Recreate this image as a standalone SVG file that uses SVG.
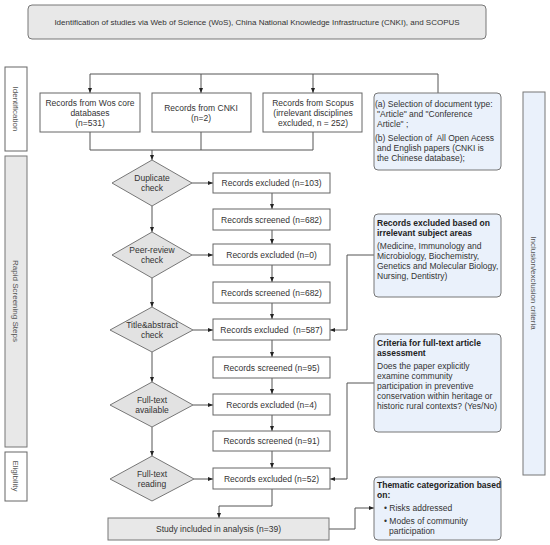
<svg xmlns="http://www.w3.org/2000/svg" width="550" height="545" viewBox="0 0 550 545">
<defs>
<marker id="ah" viewBox="0 0 10 10" refX="10" refY="5" markerWidth="5" markerHeight="5" orient="auto" markerUnits="userSpaceOnUse">
<path d="M0,1 L10,5 L0,9 z" fill="#222"/>
</marker>
</defs>
<style>
text{font-family:"Liberation Sans",Arial,sans-serif;font-size:8.5px;fill:#333}
.c{text-anchor:middle}
.b{font-weight:bold;fill:#222}
.box{fill:#fff;stroke:#666;stroke-width:1}
.grey{fill:#e8e8e8;stroke:#777;stroke-width:1}
.dia{fill:#e2e2e2;stroke:#777;stroke-width:1}
.blue{fill:#eaf1fb;stroke:#777;stroke-width:1}
.side{fill:#555;font-size:8px}
.con path{fill:none;stroke:#555;stroke-width:1}
.arr{marker-end:url(#ah)}
</style>
<rect width="550" height="545" fill="#fff"/>

<g id="title"><rect x="28" y="5" width="458" height="34" rx="4" class="grey"/>
<text x="257" y="25" class="c" style="font-size:8px">Identification of studies via Web of Science (WoS), China National Knowledge Infrastructure (CNKI), and SCOPUS</text></g>

<g id="side-identification"><rect x="5" y="67" width="22" height="84" class="box"/>
<text transform="translate(13,109) rotate(90)" class="c side">Identification</text></g>
<g id="side-screening"><rect x="5" y="156" width="22" height="291" class="grey"/>
<text transform="translate(13,301) rotate(90)" class="c side">Rapid Screening Steps</text></g>
<g id="side-eligibility"><rect x="5" y="452" width="22" height="49" class="box"/>
<text transform="translate(13,476) rotate(90)" class="c side">Eligibility</text></g>
<g id="side-criteria"><rect x="523" y="92" width="22" height="383" class="blue"/>
<text transform="translate(531,283) rotate(90)" class="c side">Inclusion/exclusion criteria</text></g>

<g class="con" id="connectors">
<path d="M438,93 V74 H90 V93" class="arr"/>
<path d="M201,74 V93" class="arr"/>
<path d="M313,74 V93" class="arr"/>
<path d="M90,132 V150 H313 V132"/>
<path d="M201,132 V150"/>
<path d="M152,150 V160" class="arr"/>
<path d="M152,206 V232" class="arr"/>
<path d="M152,278 V307" class="arr"/>
<path d="M152,352 V382" class="arr"/>
<path d="M152,427 V456" class="arr"/>
<path d="M192,183 H213" class="arr"/>
<path d="M192,255 H213" class="arr"/>
<path d="M193,330 H213" class="arr"/>
<path d="M193,405 H213" class="arr"/>
<path d="M194,479 H213" class="arr"/>
<path d="M272,193 V209" class="arr"/>
<path d="M272,230 V244" class="arr"/>
<path d="M272,265 V282" class="arr"/>
<path d="M272,303 V319" class="arr"/>
<path d="M272,340 V357" class="arr"/>
<path d="M272,378 V394" class="arr"/>
<path d="M272,415 V431" class="arr"/>
<path d="M272,451 V468" class="arr"/>
<path d="M272,489 V506 H219 V518" class="arr"/>
<path d="M374,255 H347 V330 H330" class="arr"/>
<path d="M374,383 H347 V479 H330" class="arr"/>
<path d="M329,529 H355 V508 H374" class="arr"/>
</g>

<g id="wos"><rect x="40" y="93" width="100" height="39" class="box"/>
<text x="90" y="106" class="c">Records from Wos core</text><text x="90" y="116" class="c">databases</text><text x="90" y="126" class="c">(n=531)</text></g>
<g id="cnki"><rect x="152" y="93" width="99" height="39" class="box"/>
<text x="201" y="111" class="c">Records from CNKI</text><text x="201" y="121" class="c">(n=2)</text></g>
<g id="scopus"><rect x="263" y="93" width="99" height="39" class="box"/>
<text x="313" y="106" class="c">Records from Scopus</text><text x="313" y="116" class="c">(irrelevant disciplines</text><text x="313" y="126" class="c">excluded, n = 252)</text></g>

<g id="doctype"><rect x="374" y="93" width="127" height="77" rx="4" class="blue"/>
<text x="375" y="107">(a) Selection of document type:</text>
<text x="377" y="117">"Article" and "Conference</text>
<text x="377" y="127">Article" ;</text>
<text x="375" y="141" xml:space="preserve">(b) Selection of  All Open Acess</text>
<text x="377" y="151">and English papers (CNKI is</text>
<text x="377" y="161">the Chinese database);</text></g>

<g id="dup"><polygon points="152,160 192,183 152,206 112,183" class="dia"/>
<text x="152" y="181" class="c">Duplicate</text><text x="152" y="191" class="c">check</text></g>
<g id="peer"><polygon points="152,232 192,255 152,278 112,255" class="dia"/>
<text x="152" y="253" class="c">Peer-review</text><text x="152" y="263" class="c">check</text></g>
<g id="title-abs"><polygon points="152,307 193,330 152,352 110,330" class="dia"/>
<text x="152" y="328" class="c">Title&amp;abstract</text><text x="152" y="338" class="c">check</text></g>
<g id="fulltext-avail"><polygon points="152,382 193,405 152,427 110,405" class="dia"/>
<text x="152" y="403" class="c">Full-text</text><text x="152" y="413" class="c">available</text></g>
<g id="fulltext-read"><polygon points="152,456 194,479 152,501 110,479" class="dia"/>
<text x="152" y="477" class="c">Full-text</text><text x="152" y="487" class="c">reading</text></g>

<g id="ex1"><rect x="213" y="173" width="117" height="20" class="box"/><text x="271.5" y="186" class="c">Records excluded (n=103)</text></g>
<g id="sc1"><rect x="213" y="209" width="117" height="21" class="box"/><text x="271.5" y="222.5" class="c">Records screened (n=682)</text></g>
<g id="ex2"><rect x="213" y="244" width="117" height="21" class="box"/><text x="271.5" y="257.5" class="c">Records excluded (n=0)</text></g>
<g id="sc2"><rect x="213" y="282" width="117" height="21" class="box"/><text x="271.5" y="295.5" class="c">Records screened (n=682)</text></g>
<g id="ex3"><rect x="213" y="319" width="117" height="21" class="box"/><text x="271.5" y="332.5" class="c" xml:space="preserve">Records excluded  (n=587)</text></g>
<g id="sc3"><rect x="213" y="357" width="117" height="21" class="box"/><text x="271.5" y="370.5" class="c">Records screened (n=95)</text></g>
<g id="ex4"><rect x="213" y="394" width="117" height="21" class="box"/><text x="271.5" y="407.5" class="c">Records excluded (n=4)</text></g>
<g id="sc4"><rect x="213" y="431" width="117" height="20" class="box"/><text x="271.5" y="444" class="c">Records screened (n=91)</text></g>
<g id="ex5"><rect x="213" y="468" width="117" height="21" class="box"/><text x="271.5" y="481.5" class="c">Records excluded (n=52)</text></g>

<g id="study"><rect x="108" y="518" width="221" height="22" class="grey"/><text x="218.5" y="532" class="c">Study included in analysis (n=39)</text></g>

<g id="subject"><rect x="374" y="214" width="127" height="83" rx="4" class="blue"/>
<text x="377" y="226" class="b">Records excluded based on</text>
<text x="377" y="236" class="b">irrelevant subject areas</text>
<text x="377" y="249">(Medicine, Immunology and</text>
<text x="377" y="259">Microbiology, Biochemistry,</text>
<text x="377" y="269">Genetics and Molecular Biology,</text>
<text x="377" y="279">Nursing, Dentistry)</text></g>

<g id="criteria"><rect x="374" y="334" width="127" height="98" rx="4" class="blue"/>
<text x="377" y="346" class="b">Criteria for full-text article</text>
<text x="377" y="356" class="b">assessment</text>
<text x="377" y="369">Does the paper explicitly</text>
<text x="377" y="379">examine community</text>
<text x="377" y="389">participation in preventive</text>
<text x="377" y="399">conservation within heritage or</text>
<text x="377" y="409">historic rural contexts? (Yes/No)</text></g>

<g id="thematic"><rect x="374" y="477" width="127" height="63" rx="4" class="blue"/>
<text x="377" y="488" class="b">Thematic categorization based</text>
<text x="377" y="498" class="b">on:</text>
<text x="384" y="511">• Risks addressed</text>
<text x="384" y="524">• Modes of community</text>
<text x="389" y="534">participation</text></g>
</svg>
